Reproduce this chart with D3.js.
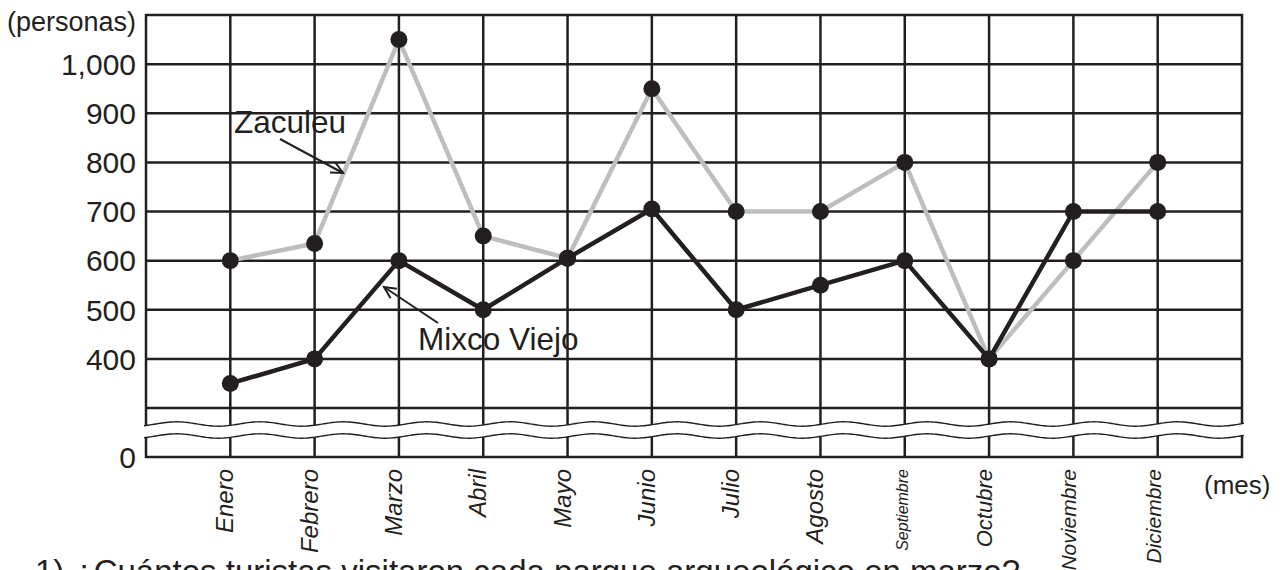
<!DOCTYPE html>
<html>
<head>
<meta charset="utf-8">
<title>Visitantes</title>
<script src="https://d3js.org/d3.v7.min.js"></script>
<style>
  body { margin: 0; background: #fff; }
  svg { display: block; font-family: "Liberation Sans", Arial, sans-serif; }
</style>
</head>
<body>
<div id="chart"></div>
<script>
// datos
var months = ["Enero","Febrero","Marzo","Abril","Mayo","Junio","Julio","Agosto","Septiembre","Octubre","Noviembre","Diciembre"];
var zaculeu = [600, 635, 1050, 650, 605, 950, 700, 700, 800, 400, 600, 800];
var mixcoViejo = [350, 400, 600, 500, 605, 705, 500, 550, 600, 400, 700, 700];
var yTickValues = [0, 400, 500, 600, 700, 800, 900, 1000];
var yGridValues = [300, 400, 500, 600, 700, 800, 900, 1000];

var W = 1288, H = 570;
var ink = "#231f20", grey = "#bcbec0";
var mLeft = 146, mRight = 1242, mTop = 15, mBottom = 457;

var svg = d3.select("#chart").append("svg")
    .attr("width", W).attr("height", H);

var x = d3.scalePoint().domain(months).range([mLeft, mRight]).padding(1);
// eje con corte: 0 abajo, luego 300..1100 lineal
var y = d3.scaleLinear().domain([0, 300, 1100]).range([mBottom, 408, mTop]);

// rejilla
svg.append("g").selectAll("line")
    .data(yGridValues).enter().append("line")
    .attr("x1", mLeft).attr("x2", mRight)
    .attr("y1", function(d){ return y(d); }).attr("y2", function(d){ return y(d); })
    .style("stroke", ink).style("stroke-width", 2.5);

svg.append("g").selectAll("line")
    .data(months).enter().append("line")
    .attr("x1", function(d){ return x(d); }).attr("x2", function(d){ return x(d); })
    .attr("y1", mTop).attr("y2", mBottom)
    .style("stroke", ink).style("stroke-width", 2.5);

svg.append("rect")
    .attr("x", mLeft).attr("y", mTop)
    .attr("width", mRight - mLeft).attr("height", mBottom - mTop)
    .style("fill", "none").style("stroke", ink).style("stroke-width", 2.5);

// corte del eje (ondas)
var P = 83.4, A = 2.2, x0 = 260;
function wave(yc, reverse) {
  var pts = d3.range(mLeft - 2, mRight + 3, 2).map(function(px){
    return [px, yc - A * Math.cos(2 * Math.PI * (px - x0) / P)];
  });
  return reverse ? pts.reverse() : pts;
}
var yUp = 424, yLo = 436;
var band = wave(yUp).concat(wave(yLo, true));
svg.append("path")
    .attr("d", d3.line()(band) + "Z")
    .style("fill", "#fff").style("stroke", "none");
[yUp, yLo].forEach(function(yc){
  svg.append("path")
      .attr("d", d3.line()(wave(yc)))
      .style("fill", "none").style("stroke", ink).style("stroke-width", 1.4);
});

// etiquetas eje y
svg.append("g").selectAll("text")
    .data(yTickValues).enter().append("text")
    .attr("x", 136).attr("y", function(d){ return y(d); })
    .attr("dy", "0.36em")
    .style("text-anchor", "end")
    .style("font-size", "30px")
    .style("fill", ink)
    .text(d3.format(","));

svg.append("text")
    .attr("x", 136).attr("y", 31)
    .style("text-anchor", "end").style("font-size", "27px").style("fill", ink)
    .text("(personas)");

// etiquetas de meses
var monthSize = { "Septiembre": 16, "Octubre": 22, "Noviembre": 21, "Diciembre": 21 };
svg.append("g").selectAll("text")
    .data(months).enter().append("text")
    .attr("transform", function(d){ return "translate(" + (x(d) + 3) + ",469) rotate(-90)"; })
    .style("text-anchor", "end")
    .style("font-style", "italic")
    .style("font-size", function(d){ return (monthSize[d] || 24) + "px"; })
    .style("fill", ink)
    .text(function(d){ return d; });

svg.append("text")
    .attr("x", 1204).attr("y", 494)
    .style("font-size", "26px").style("fill", ink)
    .text("(mes)");

// lineas
var line = d3.line()
    .x(function(d, i){ return x(months[i]); })
    .y(function(d){ return y(d); });

svg.append("path").datum(zaculeu)
    .attr("d", line)
    .style("fill", "none").style("stroke", grey).style("stroke-width", 4.5)
    .style("stroke-linejoin", "round");

svg.append("path").datum(mixcoViejo)
    .attr("d", line)
    .style("fill", "none").style("stroke", ink).style("stroke-width", 4.5)
    .style("stroke-linejoin", "round");

[zaculeu, mixcoViejo].forEach(function(series){
  svg.append("g").selectAll("circle")
      .data(series).enter().append("circle")
      .attr("cx", function(d, i){ return x(months[i]); })
      .attr("cy", function(d){ return y(d); })
      .attr("r", 8.5)
      .style("fill", ink);
});

// anotaciones
function arrow(x1, y1, x2, y2) {
  var a = Math.atan2(y2 - y1, x2 - x1), L = 13, s = 0.45;
  svg.append("line")
      .attr("x1", x1).attr("y1", y1).attr("x2", x2).attr("y2", y2)
      .style("stroke", ink).style("stroke-width", 2);
  svg.append("path")
      .attr("d", "M" + (x2 - L * Math.cos(a - s)) + "," + (y2 - L * Math.sin(a - s)) +
                 "L" + x2 + "," + y2 +
                 "L" + (x2 - L * Math.cos(a + s)) + "," + (y2 - L * Math.sin(a + s)))
      .style("fill", "none").style("stroke", ink).style("stroke-width", 2);
}

svg.append("text")
    .attr("x", 234).attr("y", 133)
    .style("font-size", "31.5px").style("fill", ink)
    .text("Zaculeu");
arrow(280, 139, 343, 173);

svg.append("text")
    .attr("x", 418).attr("y", 350)
    .style("font-size", "31.5px").style("fill", ink)
    .text("Mixco Viejo");
arrow(438, 323, 384, 287);

// pregunta (cortada abajo)
svg.append("text")
    .attr("x", 35).attr("y", 583)
    .style("font-size", "33px").style("fill", ink)
    .text("1) ¿Cuántos turistas visitaron cada parque arqueológico en marzo?");
</script>
</body>
</html>
